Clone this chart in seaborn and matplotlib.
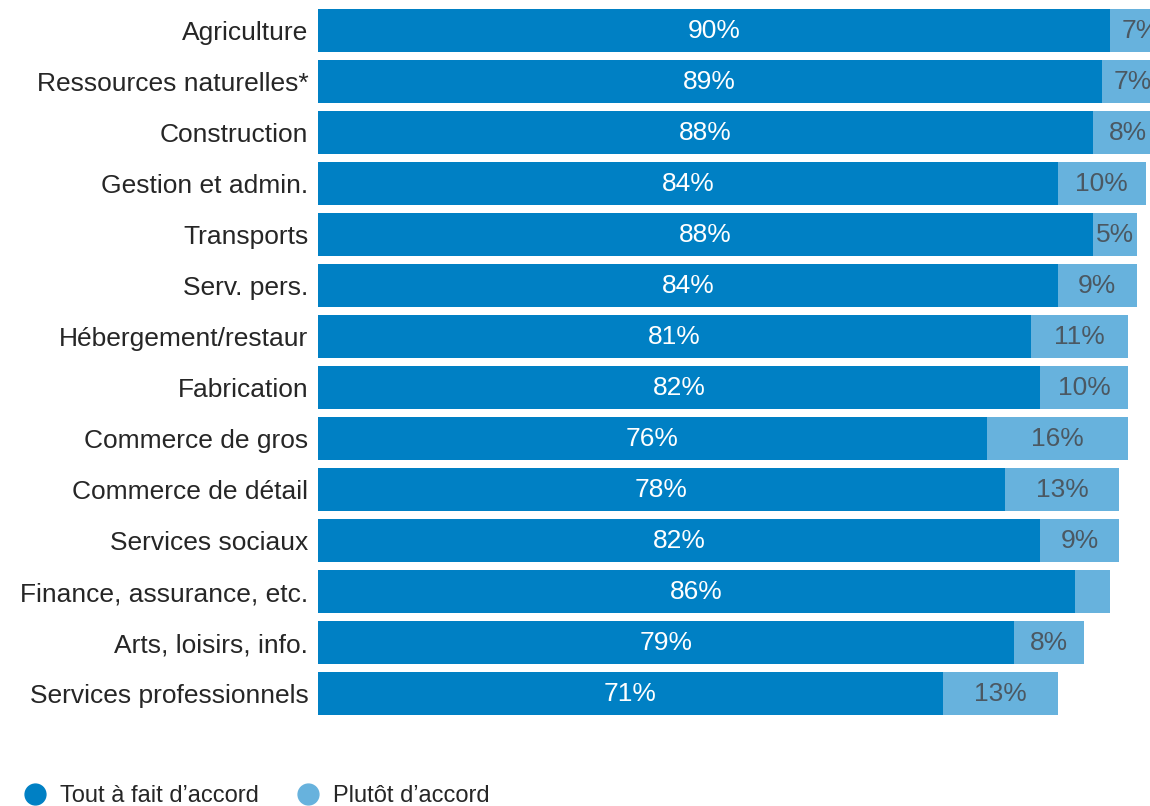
import numpy as np
import pandas as pd
import seaborn as sns
import matplotlib.pyplot as plt
from matplotlib.lines import Line2D

# Données
secteurs = [
    "Agriculture", "Ressources naturelles*", "Construction", "Gestion et admin.",
    "Transports", "Serv. pers.", "Hébergement/restaur", "Fabrication",
    "Commerce de gros", "Commerce de détail", "Services sociaux",
    "Finance, assurance, etc.", "Arts, loisirs, info.", "Services professionnels",
]
tout_a_fait = [90, 89, 88, 84, 88, 84, 81, 82, 76, 78, 82, 86, 79, 71]
plutot = [7, 7, 8, 10, 5, 9, 11, 10, 16, 13, 9, 4, 8, 13]

couleur_fonce = "#0080C4"
couleur_clair = "#67B2DD"

df = pd.DataFrame({"secteur": secteurs, "fonce": tout_a_fait, "clair": plutot})
df["total"] = df["fonce"] + df["clair"]

sns.set_style("white")
plt.rcParams["font.family"] = ["Liberation Sans", "DejaVu Sans"]

fig = plt.figure(figsize=(11.5, 8.06), dpi=100)
ax = fig.add_axes([318 / 1150, 1 - 719 / 806, 1 - 318 / 1150, (719 - 5) / 806])

# Barres empilées : total en clair, puis la partie foncée par-dessus
sns.barplot(data=df, x="total", y="secteur", color=couleur_clair, orient="h",
            width=0.84, saturation=1, linewidth=0, ax=ax)
sns.barplot(data=df, x="fonce", y="secteur", color=couleur_fonce, orient="h",
            width=0.84, saturation=1, linewidth=0, ax=ax)

# Étiquettes des valeurs
for i, row in df.iterrows():
    ax.text(row["fonce"] / 2, i, f"{row['fonce']}%", ha="center", va="center",
            color="white", fontsize=19)
    if row["clair"] >= 5:
        ax.text(row["fonce"] + row["clair"] / 2, i, f"{row['clair']}%",
                ha="center", va="center", color="#4B5862", fontsize=19)

ax.set_xlim(0, 94.5)
ax.set_ylim(13.5, -0.5)
ax.set_xlabel("")
ax.set_ylabel("")
ax.set_xticks([])
ax.tick_params(axis="y", length=0, pad=7, labelsize=19, labelcolor="#262626")
sns.despine(ax=ax, left=True, bottom=True)

# Légende
poignees = [
    Line2D([], [], marker="o", linestyle="", markersize=15, color=couleur_fonce),
    Line2D([], [], marker="o", linestyle="", markersize=15, color=couleur_clair),
]
fig.legend(poignees, ["Tout à fait d’accord", "Plutôt d’accord"], ncol=2,
           loc="center left", bbox_to_anchor=(0.012, 1 - 796 / 806), frameon=False,
           fontsize=17, handlelength=1, handletextpad=0.55, columnspacing=1.6,
           borderaxespad=0, labelcolor="#262626")

fig.savefig("out.png", dpi=100)
